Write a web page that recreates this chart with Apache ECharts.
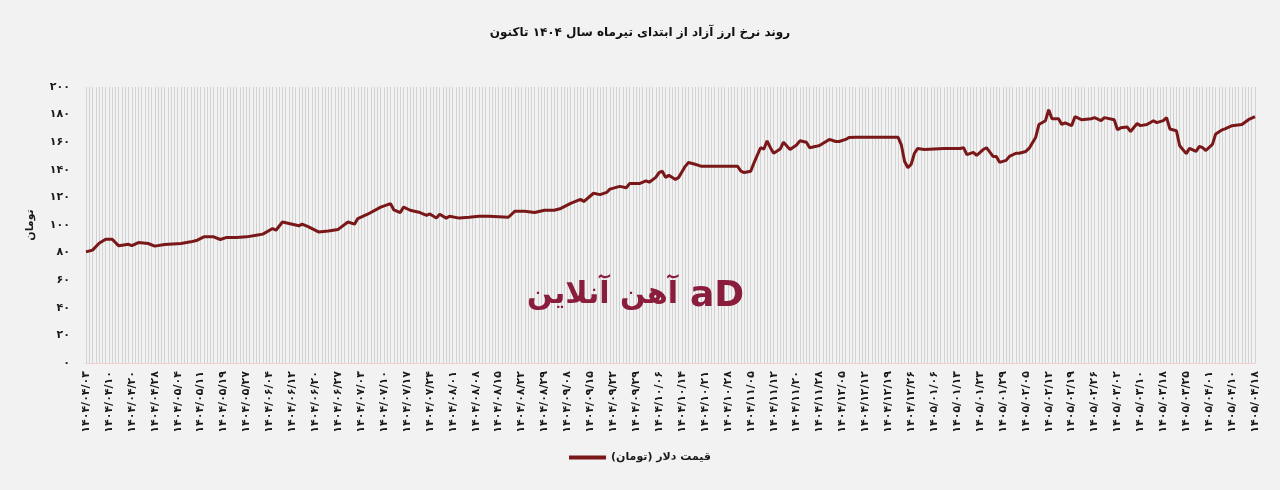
<!DOCTYPE html>
<html>
<head>
<meta charset="utf-8">
<script src="https://cdn.jsdelivr.net/npm/echarts@6/dist/echarts.min.js"></script>
<style>
html,body{margin:0;padding:0;background:#f2f2f2;}
#chart{width:1280px;height:490px;direction:rtl;}
</style>
</head>
<body>
<div id="chart" dir="rtl"></div>
<script>
// Tick labels shown on the category axis (one every 7 categories)
const tickLabels = [
 '۱۴۰۴/۰۴/۰۳','۱۴۰۴/۰۴/۱۰','۱۴۰۴/۰۴/۲۰','۱۴۰۴/۰۴/۲۸','۱۴۰۴/۰۵/۰۴','۱۴۰۴/۰۵/۱۱','۱۴۰۴/۰۵/۱۹','۱۴۰۴/۰۵/۲۷',
 '۱۴۰۴/۰۶/۰۴','۱۴۰۴/۰۶/۱۲','۱۴۰۴/۰۶/۲۰','۱۴۰۴/۰۶/۲۷','۱۴۰۴/۰۷/۰۳','۱۴۰۴/۰۷/۱۰','۱۴۰۴/۰۷/۱۷','۱۴۰۴/۰۷/۲۴',
 '۱۴۰۴/۰۸/۰۱','۱۴۰۴/۰۸/۰۸','۱۴۰۴/۰۸/۱۵','۱۴۰۴/۰۸/۲۲','۱۴۰۴/۰۸/۲۹','۱۴۰۴/۰۹/۰۸','۱۴۰۴/۰۹/۱۵','۱۴۰۴/۰۹/۲۲',
 '۱۴۰۴/۰۹/۲۹','۱۴۰۴/۱۰/۰۶','۱۴۰۴/۱۰/۱۴','۱۴۰۴/۱۰/۲۱','۱۴۰۴/۱۰/۲۸','۱۴۰۴/۱۱/۰۵','۱۴۰۴/۱۱/۱۲','۱۴۰۴/۱۱/۲۰',
 '۱۴۰۴/۱۱/۲۸','۱۴۰۴/۱۲/۰۵','۱۴۰۴/۱۲/۱۲','۱۴۰۴/۱۲/۱۹','۱۴۰۴/۱۲/۲۶','۱۴۰۵/۰۱/۰۶','۱۴۰۵/۰۱/۱۳','۱۴۰۵/۰۱/۲۳',
 '۱۴۰۵/۰۱/۲۹','۱۴۰۵/۰۲/۰۵','۱۴۰۵/۰۲/۱۲','۱۴۰۵/۰۲/۱۹','۱۴۰۵/۰۲/۲۶','۱۴۰۵/۰۳/۰۲','۱۴۰۵/۰۳/۱۰','۱۴۰۵/۰۳/۱۸',
 '۱۴۰۵/۰۳/۲۵','۱۴۰۵/۰۴/۰۱','۱۴۰۵/۰۴/۱۰','۱۴۰۵/۰۴/۱۸'
];
const daysPerTick = 7;
// Categories: each labelled day followed by unlabelled trading days
const categories = [];
tickLabels.forEach((t, i) => {
  categories.push(t);
  if (i < tickLabels.length - 1) for (let k = 1; k < daysPerTick; k++) categories.push('');
});

// Dollar price (thousand toman): [category index, value]
const dollarPrice = [
 [0,80.5],[2,81.8],[4,86.8],[6,89.7],[8,89.7],[10,84.9],[13,86],[14,85],[16,87.3],[19,86.6],[21,84.7],[24,85.9],
 [29,86.6],[32,87.8],[34,89],[36,91.4],[39,91.4],[41,89.5],[43,91],[46,91],[49,91.4],[52,92.6],[54,93.4],[57,97.5],
 [58,96.2],[60,102.2],[63,100.6],[65,99.4],[66,100.6],[68,98.6],[71,95],[74,95.7],[77,96.8],[80,102.2],[82,100.6],
 [83,104.7],[86,107.8],[90,113],[93,115.5],[94,111],[96,109],[97,113],[99,110.7],[102,109],[104,107],[105,108],
 [107,105],[108,107.8],[110,105],[111,106.4],[114,105],[117,105.6],[120,106.4],[123,106.4],[129,105.6],[131,110],
 [134,110],[137,109],[140,110.7],[143,110.7],[145,112],[148,115.7],[151,118.6],[152,117],[154,121],[155,123],
 [157,122],[159,123.6],[160,126],[163,128],[165,127],[166,130],[169,130],[171,132],[172,131],[174,134.5],[175,138],
 [176,139],[177,134.5],[178,136],[180,133],[181,134.5],[183,142.5],[184,145.3],[186,144],[188,142.5],[199,142.5],
 [200,139],[201,138],[203,139],[204,145],[206,156],[207,155],[208,161],[209,156],[210,152],[212,155],[213,160],
 [215,154.7],[217,158],[218,161],[220,160],[221,156],[223,157],[224,157.6],[226,160.5],[227,162],[229,160.5],
 [230,160.5],[232,162],[233,163.4],[235,163.5],[248,163.5],[249,158],[250,146],[251,141.5],[252,144],[253,152],
 [254,155.5],[256,154.7],[262,155.5],[267,155.5],[268,156],[269,151],[271,152.6],[272,150.4],[274,154.7],[275,156],
 [277,149.7],[278,149.7],[279,145.4],[281,146.8],[282,149.7],[284,152],[285,152],[287,153.3],[288,155.5],[290,163.4],
 [291,172.8],[293,175.6],[294,183.5],[295,177],[297,177],[298,172.8],[299,174],[301,172],[302,178.5],[304,176.3],
 [307,177],[308,177.8],[310,175.6],[311,177.8],[314,176.3],[315,169],[316,170.4],[318,171],[319,167.7],[321,173.5],
 [322,172],[324,172.8],[326,175.6],[327,174.2],[329,175.6],[330,177.8],[331,169.6],[333,168.3],[334,157.4],
 [336,151.7],[337,155.5],[339,153.3],[340,157],[341,156],[342,154],[344,158.4],[345,166],[347,169],[348,169.9],
 [350,172],[353,172.8],[355,176.3],[357,178.5]
];

const faDigits = n => String(n).replace(/\d/g, d => '۰۱۲۳۴۵۶۷۸۹'[d]);
const seriesName = 'قیمت دلار (تومان)';
const titleText = 'روند نرخ ارز آزاد از ابتدای تیرماه سال ۱۴۰۴ تاکنون';
const lineColor = '#7a1719';
const fontFam = 'DejaVu Sans, sans-serif';

const chart = echarts.init(document.getElementById('chart'), null, {renderer: 'canvas'});
chart.setOption({
  backgroundColor: '#f2f2f2',
  animation: false,
  title: {
    text: titleText, left: 'center', top: 22,
    textStyle: {fontSize: 12, fontWeight: 'bold', color: '#111', fontFamily: fontFam}
  },
  grid: {left: 86, right: 25, top: 87, bottom: 127},
  legend: {
    bottom: 22, left: 'center',
    icon: 'rect', itemWidth: 37, itemHeight: 4, itemGap: 6,
    textStyle: {fontSize: 11, fontWeight: 'bold', color: '#1a1a1a', fontFamily: fontFam},
    data: [seriesName]
  },
  xAxis: {
    type: 'category', data: categories, boundaryGap: false,
    axisLine: {lineStyle: {color: '#efcfd0', width: 1}},
    axisTick: {show: false},
    axisLabel: {
      interval: 0, rotate: 90, margin: 8,
      fontSize: 11, fontWeight: 'bold', color: '#1a1a1a', fontFamily: fontFam
    },
    splitLine: {show: true, interval: 0, lineStyle: {color: '#d2d2d2', width: 1}}
  },
  yAxis: {
    type: 'value', min: 0, max: 200, interval: 20,
    name: 'تومان', nameLocation: 'middle', nameGap: 50,
    nameTextStyle: {fontSize: 11, fontWeight: 'bold', color: '#1a1a1a', fontFamily: fontFam},
    axisLine: {show: false}, axisTick: {show: false},
    axisLabel: {formatter: v => faDigits(v), fontSize: 11, fontWeight: 'bold', color: '#1a1a1a', margin: 16, fontFamily: fontFam},
    splitLine: {show: false}
  },
  graphic: [
    {type: 'text', left: 527, top: 280, z: 100, silent: true,
     style: {text: 'آهن آنلاین', fill: '#8a1c3c', font: 'bold 30px ' + fontFam}},
    {type: 'text', left: 690, top: 279, z: 100, silent: true,
     style: {text: 'aD', fill: '#8a1c3c', font: 'bold 36px ' + fontFam}}
  ],
  series: [{
    name: seriesName, type: 'line', data: dollarPrice, z: 200,
    showSymbol: false, symbol: 'none',
    lineStyle: {color: lineColor, width: 3},
    itemStyle: {color: lineColor}
  }]
});
</script>
</body>
</html>
